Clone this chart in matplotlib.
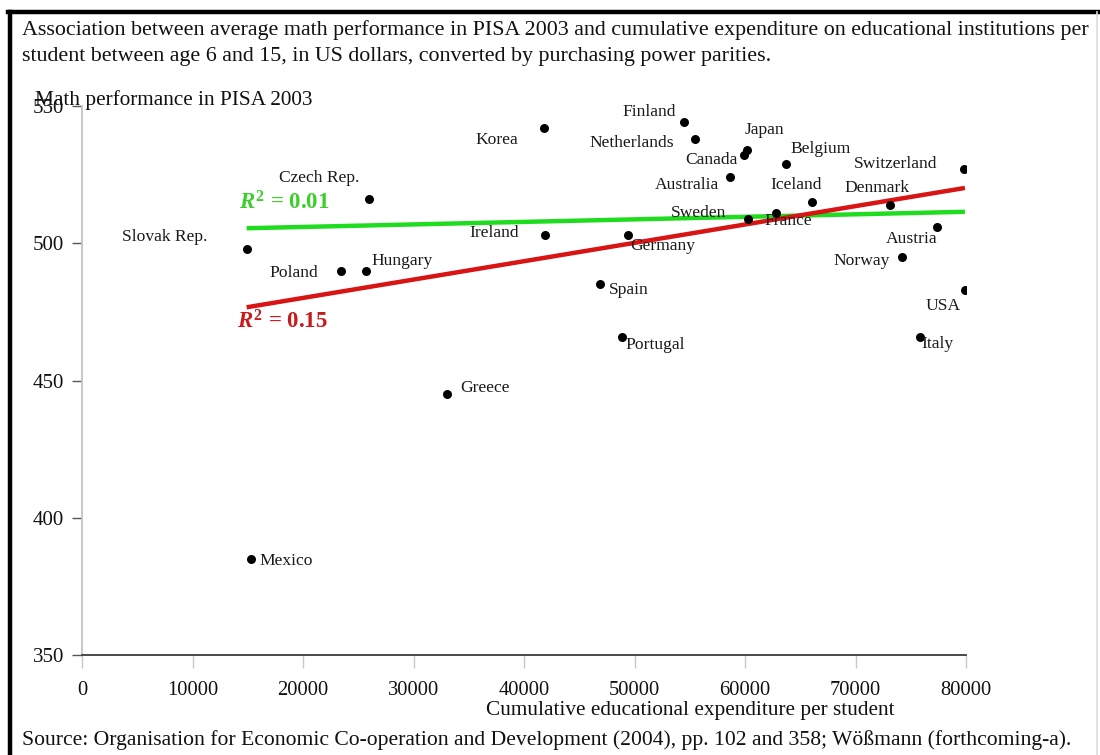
import numpy as np
import matplotlib
matplotlib.use("Agg")
import matplotlib.pyplot as plt
from matplotlib.lines import Line2D

plt.rcParams["font.family"] = ["Liberation Serif", "DejaVu Serif"]
plt.rcParams["mathtext.fontset"] = "custom"
plt.rcParams["mathtext.rm"] = "Liberation Serif:bold"
plt.rcParams["mathtext.it"] = "Liberation Serif:italic:bold"
plt.rcParams["mathtext.bf"] = "Liberation Serif:bold"

# Cumulative expenditure per student (US$ PPP) and PISA 2003 math score
countries = ["Korea", "Finland", "Netherlands", "Japan", "Canada", "Belgium",
             "Australia", "Iceland", "Sweden", "France", "Ireland", "Germany",
             "Spain", "Portugal", "Switzerland", "Denmark", "Austria", "Norway",
             "USA", "Italy", "Czech Rep.", "Slovak Rep.", "Poland", "Hungary",
             "Greece", "Mexico"]
expenditure = [41800, 54500, 55500, 60200, 59900, 63700,
               58600, 66100, 60300, 62800, 41900, 49400,
               46900, 48900, 79800, 73100, 77400, 74200,
               79900, 75800, 26000, 14900, 23400, 25700,
               33000, 15300]
math_score = [542, 544, 538, 534, 532, 529,
              524, 515, 509, 511, 503, 503,
              485, 466, 527, 514, 506, 495,
              483, 466, 516, 498, 490, 490,
              445, 385]

# Label placement relative to each dot (pixels)
label_offsets = {
    "Korea": (-47, -12), "Finland": (-35, 10), "Netherlands": (-63, -4),
    "Japan": (17, 20), "Canada": (-32, -5), "Belgium": (35, 15),
    "Australia": (-43, -8), "Iceland": (-16, 17), "Sweden": (-50, 6),
    "France": (12, -8), "Ireland": (-51, 2), "Germany": (35, -11),
    "Spain": (29, -6), "Portugal": (33, -8), "Switzerland": (-68, 5),
    "Denmark": (-13, 17), "Austria": (-26, -12), "Norway": (-40, -4),
    "USA": (-22, -16), "Italy": (18, -7), "Czech Rep.": (-50, 21),
    "Slovak Rep.": (-82, 12), "Poland": (-47, -2), "Hungary": (36, 10),
    "Greece": (38, 6), "Mexico": (35, -2),
}

x = np.array(expenditure, dtype=float)
y = np.array(math_score, dtype=float)

W, H = 1100, 755
fig = plt.figure(figsize=(W / 100, H / 100), dpi=100)
fig.patch.set_facecolor("white")

ax = fig.add_axes([82 / W, 1 - 655 / H, 884 / W, 549 / H])
ax.set_xlim(0, 80000)
ax.set_ylim(350, 550)

for side in ("top", "right"):
    ax.spines[side].set_visible(False)
ax.spines["bottom"].set_color("#3a3a3a")
ax.spines["bottom"].set_linewidth(1.3)
ax.spines["left"].set_color("#c4c4c4")
ax.spines["left"].set_linewidth(1.3)

ax.set_xticks(np.arange(0, 80001, 10000))
ax.set_yticks([350, 400, 450, 500, 550])
ax.tick_params(axis="x", direction="out", length=9, width=1.0, color="#c8c8c8",
               labelsize=14.8, pad=10, labelcolor="#111111")
ax.tick_params(axis="y", direction="out", length=7, width=1.0, color="#555555",
               labelsize=15, pad=6, labelcolor="#111111")

# Regression lines: all countries (red) and without Mexico and Greece (green)
def fit_line(xs, ys):
    slope, intercept = np.polyfit(xs, ys, 1)
    pred = slope * xs + intercept
    r2 = 1 - np.sum((ys - pred) ** 2) / np.sum((ys - ys.mean()) ** 2)
    return slope, intercept, r2

xr = np.array([x.min(), x.max()])
s_all, i_all, r2_all = fit_line(x, y)
keep = np.array([c not in ("Mexico", "Greece") for c in countries])
s_sub, i_sub, r2_sub = fit_line(x[keep], y[keep])

ax.plot(xr, s_sub * xr + i_sub, color="#1fdc1f", lw=3.2, solid_capstyle="butt", zorder=2)
ax.plot(xr, s_all * xr + i_all, color="#d81414", lw=3.2, solid_capstyle="butt", zorder=2)

ax.scatter(x, y, s=42, color="black", zorder=3, linewidths=0)

for c, xi, yi in zip(countries, x, y):
    dx, dy = label_offsets[c]
    ax.annotate(c, (xi, yi), xytext=(dx, dy), textcoords="offset pixels",
                ha="center", va="center", fontsize=12.6, color="#1a1a1a", zorder=4)

def fig_xy(px, py):
    return px / W, 1 - py / H

fig.text(*fig_xy(239, 203), r"$\mathit{R}^{\mathbf{2}}$ = " + f"{r2_sub:.2f}",
         fontsize=16.5, fontweight="bold", color="#3ccf2a", ha="left", va="center")
fig.text(*fig_xy(237, 322), r"$\mathit{R}^{\mathbf{2}}$ = " + f"{r2_all:.2f}",
         fontsize=16.5, fontweight="bold", color="#c8191b", ha="left", va="center")

# Titles and captions
fig.text(*fig_xy(22, 30), "Association between average math performance in PISA 2003 and "
         "cumulative expenditure on educational institutions per",
         fontsize=15.8, ha="left", va="center", color="#111111")
fig.text(*fig_xy(22, 56), "student between age 6 and 15, in US dollars, converted by "
         "purchasing power parities.",
         fontsize=15.8, ha="left", va="center", color="#111111")
fig.text(*fig_xy(35, 100), "Math performance in PISA 2003",
         fontsize=15.3, ha="left", va="center", color="#111111")
fig.text(*fig_xy(690, 710), "Cumulative educational expenditure per student",
         fontsize=15.3, ha="center", va="center", color="#111111")
fig.text(*fig_xy(22, 740), "Source: Organisation for Economic Co-operation and Development "
         "(2004), pp. 102 and 358; Wößmann (forthcoming-a).",
         fontsize=15.6, ha="left", va="center", color="#111111")

# Page frame
fig.add_artist(Line2D([8 / W, 1], [1 - 12 / H, 1 - 12 / H], color="black", lw=3.2,
                      transform=fig.transFigure))
fig.add_artist(Line2D([10 / W, 10 / W], [0, 1 - 12 / H], color="black", lw=3.2,
                      transform=fig.transFigure))
fig.add_artist(Line2D([1097 / W, 1097 / W], [0, 1 - 12 / H], color="#dddddd", lw=1.2,
                      transform=fig.transFigure))

fig.savefig("out.png", dpi=100, facecolor="white")
